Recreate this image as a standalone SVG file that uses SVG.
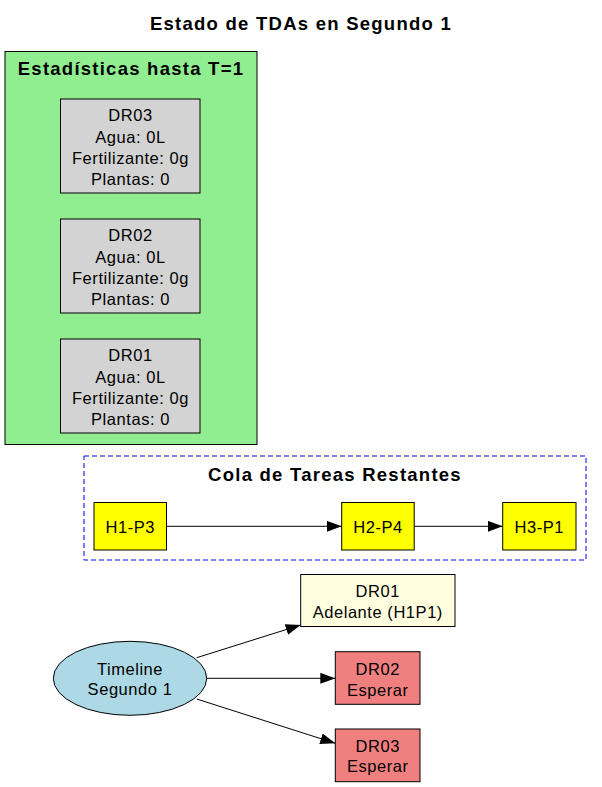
<svg xmlns="http://www.w3.org/2000/svg" width="602" height="787" viewBox="0 0 602 787">
<style>
text{font-family:"Liberation Sans",Arial,sans-serif;fill:#000;text-anchor:middle}
.t{font-size:18.5px;font-weight:bold;letter-spacing:1.25px}
.n{font-size:16.5px;letter-spacing:0.55px}
.box{stroke:#000;stroke-width:1}
.gray{fill:#d3d3d3}
.yel{fill:#ffff00}
.ly{fill:#ffffe0}
.red{fill:#f08080}
.edge{stroke:#000;stroke-width:1;fill:none;marker-end:url(#arr)}
</style>
<defs>
<marker id="arr" markerWidth="15" markerHeight="11" refX="15" refY="5.5" orient="auto" markerUnits="userSpaceOnUse"><path d="M0,0 L15,5.5 L0,11 z" fill="#000"/></marker>
</defs>
<rect width="602" height="787" fill="#fff"/>
<text class="t" x="301" y="30">Estado de TDAs en Segundo 1</text>
<g id="cluster_stats">
<rect x="5" y="51.5" width="252" height="393" fill="#90ee90" stroke="#000"/>
<text class="t" x="131" y="74.5">Estadísticas hasta T=1</text>
</g>
<g id="stat_DR03">
<rect class="box gray" x="60.5" y="99" width="139.5" height="94"/>
<text class="n" x="130.5" y="121.3">DR03</text>
<text class="n" x="130.5" y="142.5">Agua: 0L</text>
<text class="n" x="130.5" y="163.7">Fertilizante: 0g</text>
<text class="n" x="130.5" y="184.9">Plantas: 0</text>
</g>
<g id="stat_DR02">
<rect class="box gray" x="60.5" y="219" width="139.5" height="94"/>
<text class="n" x="130.5" y="241.3">DR02</text>
<text class="n" x="130.5" y="262.5">Agua: 0L</text>
<text class="n" x="130.5" y="283.7">Fertilizante: 0g</text>
<text class="n" x="130.5" y="304.9">Plantas: 0</text>
</g>
<g id="stat_DR01">
<rect class="box gray" x="60.5" y="339" width="139.5" height="94"/>
<text class="n" x="130.5" y="361.3">DR01</text>
<text class="n" x="130.5" y="382.5">Agua: 0L</text>
<text class="n" x="130.5" y="403.7">Fertilizante: 0g</text>
<text class="n" x="130.5" y="424.9">Plantas: 0</text>
</g>
<g id="cluster_queue">
<rect x="84" y="456" width="502" height="104" fill="none" stroke="#0000ff" stroke-dasharray="5,3"/>
<text class="t" x="335" y="481">Cola de Tareas Restantes</text>
</g>
<g id="H1-P3">
<rect class="box yel" x="94" y="502.5" width="72.5" height="47.5"/>
<text class="n" x="130.3" y="533">H1-P3</text>
</g>
<g id="H2-P4">
<rect class="box yel" x="341.7" y="502.5" width="72.5" height="47.5"/>
<text class="n" x="378" y="533">H2-P4</text>
</g>
<g id="H3-P1">
<rect class="box yel" x="502.7" y="502.5" width="73.3" height="47.5"/>
<text class="n" x="539.3" y="533">H3-P1</text>
</g>
<g id="timeline">
<ellipse cx="130" cy="678.3" rx="76.7" ry="37" fill="#add8e6" stroke="#000"/>
<text class="n" x="130" y="675">Timeline</text>
<text class="n" x="130" y="695">Segundo 1</text>
</g>
<g id="act_DR01">
<rect class="box ly" x="300.7" y="574.5" width="154.3" height="52"/>
<text class="n" x="377.8" y="596.7">DR01</text>
<text class="n" x="377.8" y="617.7">Adelante (H1P1)</text>
</g>
<g id="act_DR02">
<rect class="box red" x="335.3" y="651.7" width="84.7" height="52.6"/>
<text class="n" x="377.7" y="675">DR02</text>
<text class="n" x="377.7" y="695.5">Esperar</text>
</g>
<g id="act_DR03">
<rect class="box red" x="335.3" y="729" width="84.7" height="52.7"/>
<text class="n" x="377.7" y="751.7">DR03</text>
<text class="n" x="377.7" y="772">Esperar</text>
</g>
<g id="edges">
<path class="edge" d="M166.5,526.3 L341.7,526.3"/>
<path class="edge" d="M414.2,526.3 L502.7,526.3"/>
<path class="edge" d="M196.7,657.7 L300.7,625"/>
<path class="edge" d="M206.7,678.3 L335.3,678.3"/>
<path class="edge" d="M196.7,699 L335.3,743.3"/>
</g>
</svg>
